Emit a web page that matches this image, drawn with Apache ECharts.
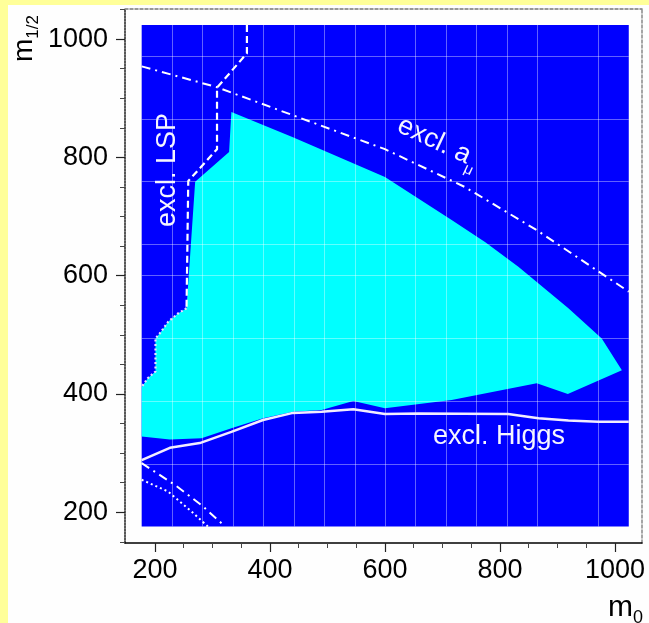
<!DOCTYPE html>
<html><head><meta charset="utf-8">
<script src="https://cdn.jsdelivr.net/npm/echarts@6/dist/echarts.min.js"></script>
<style>
html,body{margin:0;padding:0;background:#fefefe;}
#stripL{position:absolute;left:0;top:0;width:8px;height:623px;background:#ffff99;}
#stripT{position:absolute;left:0;top:0;width:649px;height:5px;background:#ffff99;}
#chart{position:absolute;left:0;top:0;width:649px;height:623px;}
</style></head><body>
<div id="stripL"></div><div id="stripT"></div>
<div id="chart"></div>
<script>
// ---------- data ----------
const xMajorTicks = [200, 400, 600, 800, 1000];
const xMinorTicks = [250, 300, 350, 450, 500, 550, 650, 700, 750, 850, 900, 950];
const yMajorTicks = [200, 400, 600, 800, 1000];
const yMinorTicks = [150, 250, 300, 350, 450, 500, 550, 650, 700, 750, 850, 900, 950, 1050];

const m0Range = [148, 1047];
const m12Range = [148, 1051];
const scanM0 = [177, 1024];
const scanM12 = [176, 1024];

// allowed (cyan) region boundary
const cyanM0  = [177, 177, 188, 201, 201, 209, 223, 240, 255, 270, 329, 333, 440, 600, 716, 774, 832, 919, 977, 1012, 918, 864, 716, 600, 545, 490, 440, 388, 333, 281, 226];
const cyanM12 = [328, 412, 427, 438, 494, 503, 522, 536, 545, 759, 809, 877, 834, 767, 694, 657, 615, 545, 494, 440, 400, 418, 390, 376, 388, 373, 370, 359, 342, 325, 323];

// excl. Higgs
const higgsM0  = [177, 226, 278, 333, 388, 440, 490, 545, 600, 658, 814, 867, 919, 971, 1024];
const higgsM12 = [288, 309, 317, 336, 356, 368, 370, 374, 366, 367, 366, 359, 355, 353, 353];

// excl. LSP (dashed upper part, dotted lower part)
const lspM0  = [360, 360, 308, 308, 258, 255];
const lspM12 = [1024, 976, 918, 814, 760, 545];
const lspLowM0  = [255, 240, 223, 209, 201, 201, 188, 177];
const lspLowM12 = [545, 536, 522, 503, 494, 438, 427, 412];

// excl. a_mu
const amuM0  = [177, 307, 600, 739, 864, 1024];
const amuM12 = [954, 919, 814, 750, 677, 573];

// lower-left curves
const lowDashM0  = [177, 235, 281, 322];
const lowDashM12 = [283, 246, 212, 176];
const lowDotM0  = [177, 223, 264, 292];
const lowDotM12 = [255, 235, 201, 176];

// visible grid lines of the scan area (16 x 16 cells)
const gridColsShown = [1,2,3,4,5,6,7,8,9,10,11,12,13,15];
const gridRowsShownFromTop = [1,3,5,7,8,10,12,14];

// ---------- chart ----------
const FONT = '"Liberation Sans", Arial, Helvetica, sans-serif';
const zip = (a, b) => a.map((v, i) => [v, b[i]]);
const GRIDC = 'rgba(255,255,255,0.38)';
const NONE = 'rgba(0,0,0,0)';
const colColors = [], rowColors = [];
for (let k = 0; k <= 16; k++) {
  colColors.push(gridColsShown.includes(k) ? GRIDC : NONE);
  rowColors.push(gridRowsShownFromTop.includes(16 - k) ? GRIDC : NONE);
}
const plain = v => String(v);

const chart = echarts.init(document.getElementById('chart'), null, {renderer: 'canvas'});

const baseX = {gridIndex: 0, type: 'value', min: m0Range[0], max: m0Range[1], splitLine: {show: false}};
const baseY = {gridIndex: 0, type: 'value', min: m12Range[0], max: m12Range[1], splitLine: {show: false}};

function lineSeries(m0, m12, style) {
  return {type: 'line', xAxisIndex: 0, yAxisIndex: 0, data: zip(m0, m12), showSymbol: false, symbol: 'none',
          lineStyle: style, z: 4, silent: true, clip: false};
}

const cyanPts = zip(cyanM0, cyanM12);

chart.setOption({
  animation: false,
  backgroundColor: 'transparent',
  grid: [
    {left: 125, top: 9, right: 7, bottom: 80, show: false},
    {left: 142, top: 25, width: 487, height: 502, show: true, backgroundColor: '#0000ff', borderWidth: 0}
  ],
  xAxis: [
    Object.assign({}, baseX, {position: 'bottom',
      axisLine: {show: true, onZero: false, lineStyle: {color: '#000', width: 1.5}},
      axisTick: {show: true, customValues: xMajorTicks, length: 9, inside: false, lineStyle: {color: '#222', width: 1.2}},
      axisLabel: {show: true, customValues: xMajorTicks, formatter: plain, margin: 14, fontSize: 27, color: '#000', fontFamily: FONT}}),
    Object.assign({}, baseX, {position: 'bottom',
      axisLine: {show: false},
      axisTick: {show: true, customValues: xMinorTicks, length: 5, inside: false, lineStyle: {color: '#444', width: 1}},
      axisLabel: {show: false}}),
    Object.assign({}, baseX, {position: 'top',
      axisLine: {show: true, onZero: false, lineStyle: {color: '#777', width: 1.5, type: [3, 2]}},
      axisTick: {show: false}, axisLabel: {show: false}}),
    {gridIndex: 1, type: 'value', min: 0, max: 16, interval: 1, z: 3,
      axisLine: {show: false}, axisTick: {show: false}, axisLabel: {show: false},
      splitLine: {show: true, showMinLine: true, showMaxLine: true, lineStyle: {color: colColors, width: 1}}}
  ],
  yAxis: [
    Object.assign({}, baseY, {position: 'left',
      axisLine: {show: true, onZero: false, lineStyle: {color: '#222', width: 1.5, type: [2, 1]}},
      axisTick: {show: true, customValues: yMajorTicks, length: 9, inside: false, lineStyle: {color: '#222', width: 1.2}},
      axisLabel: {show: true, customValues: yMajorTicks, formatter: plain, margin: 17, fontSize: 27, color: '#000', fontFamily: FONT}}),
    Object.assign({}, baseY, {position: 'left',
      axisLine: {show: false},
      axisTick: {show: true, customValues: yMinorTicks, length: 5, inside: false, lineStyle: {color: '#444', width: 1}},
      axisLabel: {show: false}}),
    Object.assign({}, baseY, {position: 'right',
      axisLine: {show: true, onZero: false, lineStyle: {color: '#888', width: 1.5, type: [3, 2]}},
      axisTick: {show: false}, axisLabel: {show: false}}),
    {gridIndex: 1, type: 'value', min: 0, max: 16, interval: 1, z: 3,
      axisLine: {show: false}, axisTick: {show: false}, axisLabel: {show: false},
      splitLine: {show: true, showMinLine: true, showMaxLine: true, lineStyle: {color: rowColors, width: 1}}}
  ],
  series: [
    {type: 'custom', xAxisIndex: 0, yAxisIndex: 0, z: 2, silent: true, clip: false,
     data: [cyanPts[0]],
     renderItem: function (params, api) {
       return {type: 'polygon', shape: {points: cyanPts.map(p => api.coord(p))}, style: {fill: '#00ffff'}};
     }},
    lineSeries(higgsM0, higgsM12, {color: '#f2ecff', width: 2.5, type: 'solid'}),
    lineSeries(lspM0, lspM12, {color: '#ffffff', width: 2.2, type: [7, 4]}),
    lineSeries(lspLowM0, lspLowM12, {color: '#f0dcff', width: 2.2, type: [2, 2.5]}),
    lineSeries(amuM0, amuM12, {color: '#ffffff', width: 2, type: [9, 5, 2, 5]}),
    lineSeries(lowDashM0, lowDashM12, {color: '#ffffff', width: 2, type: [9, 5, 2, 5]}),
    lineSeries(lowDotM0, lowDotM12, {color: '#ffffff', width: 2, type: [2, 3]})
  ],
  graphic: [
    {type: 'text', x: 168, y: 170, rotation: Math.PI / 2, z: 10, silent: true,
     style: {text: 'excl. LSP', fill: '#f5f5ff', fontSize: 27, fontFamily: FONT, align: 'center', verticalAlign: 'middle'}},
    {type: 'text', x: 499, y: 437, z: 10, silent: true,
     style: {text: 'excl. Higgs', fill: '#f5f5ff', fontSize: 27, fontFamily: FONT, align: 'center', verticalAlign: 'middle'}},
    {type: 'text', x: 399, y: 124, rotation: -0.44, z: 10, silent: true,
     style: {text: '{a|excl. a}{s|μ}', align: 'left', verticalAlign: 'middle',
       rich: {a: {fill: '#f5f5ff', fontSize: 27, fontFamily: FONT, lineHeight: 27, verticalAlign: 'top'},
              s: {fill: '#f5f5ff', fontSize: 15, fontFamily: FONT, lineHeight: 15, padding: [18, 0, 0, 0], verticalAlign: 'top'}}}},
    {type: 'text', x: 24, y: 62, rotation: Math.PI / 2, z: 10, silent: true,
     style: {text: '{m|m}{s|1/2}', align: 'left', verticalAlign: 'middle',
       rich: {m: {fill: '#000', fontSize: 28, fontFamily: FONT, lineHeight: 28, verticalAlign: 'top'},
              s: {fill: '#000', fontSize: 17, fontFamily: FONT, lineHeight: 17, padding: [15, 0, 0, 0], verticalAlign: 'top'}}}},
    {type: 'text', x: 608, y: 608, z: 10, silent: true,
     style: {text: '{m|m}{s|0}', align: 'left', verticalAlign: 'middle',
       rich: {m: {fill: '#000', fontSize: 30, fontFamily: FONT, lineHeight: 30, verticalAlign: 'top'},
              s: {fill: '#000', fontSize: 18, fontFamily: FONT, lineHeight: 18, padding: [16, 0, 0, 0], verticalAlign: 'top'}}}}
  ]
});

// place the scan area (blue) exactly on its data extent using the library's scales
const tl = chart.convertToPixel({gridIndex: 0}, [scanM0[0], scanM12[1]]);
const br = chart.convertToPixel({gridIndex: 0}, [scanM0[1], scanM12[0]]);
chart.setOption({grid: [{}, {left: tl[0], top: tl[1], width: br[0] - tl[0], height: br[1] - tl[1]}]});
</script></body></html>
